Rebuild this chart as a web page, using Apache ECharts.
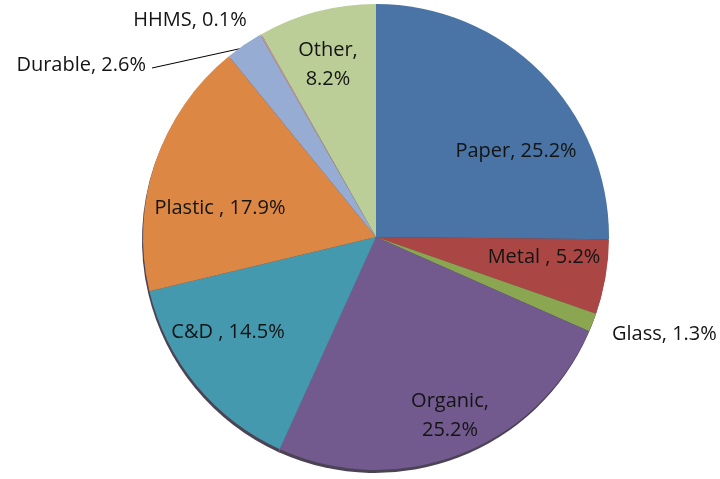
<!DOCTYPE html>
<html>
<head>
<meta charset="utf-8">
<script src="https://cdn.jsdelivr.net/npm/echarts@6/dist/echarts.min.js"></script>
<style>
  html, body { margin: 0; padding: 0; background: #fff; }
  #chart { width: 720px; height: 479px; }
</style>
</head>
<body>
<div id="chart"></div>
<script>
// waste composition
var categories = ['Paper', 'Metal ', 'Glass', 'Organic', 'C&D ', 'Plastic ', 'Durable', 'HHMS', 'Other'];
var shares = [25.2, 5.2, 1.3, 25.2, 14.5, 17.9, 2.6, 0.1, 8.2];
var colors = ['#4A74A5', '#AA4744', '#8AA650', '#725A8F', '#4499AF', '#DC8744', '#96ACD2', '#D39A99', '#BBCE97'];

// where each label sits (layout only)
var labelPos = [
    [516, 151], [544, 257], [612, 334], [450, 416], [228, 332],
    [220, 208], [146, 65], [190, 20], [328, 65]
];

function labelText(name, v) {
    // two-line labels for Organic and Other, like the original
    if (name === 'Organic' || name === 'Other') {
        return name + ',\n' + v + '%';
    }
    return name + ', ' + v + '%';
}

var pieData = categories.map(function (c, i) {
    return { name: c, value: shares[i] };
});

var chart = echarts.init(document.getElementById('chart'));

chart.setOption({
    animation: false,
    color: colors,
    series: [{
        // dark rim under the pie, gives the slight 3D edge at the bottom
        type: 'pie',
        silent: true,
        center: [375, 240],
        radius: [0, 233],
        startAngle: 90,
        z: 1,
        data: pieData,
        itemStyle: { color: '#2b2236', borderWidth: 0, opacity: 0.85 },
        label: { show: false },
        labelLine: { show: false }
    }, {
        type: 'pie',
        center: [376, 237],
        radius: [0, 233],
        startAngle: 90,
        clockwise: true,
        z: 2,
        avoidLabelOverlap: false,
        data: pieData,
        itemStyle: { borderWidth: 0 },
        label: {
            show: true,
            position: 'outside',
            color: '#141414',
            fontFamily: 'Open Sans',
            fontSize: 20,
            lineHeight: 29,
            formatter: function (p) {
                return labelText(p.name, p.value);
            }
        },
        labelLine: {
            show: true,
            length: 10,
            length2: 10,
            lineStyle: { color: '#000', width: 1 }
        },
        labelLayout: function (p) {
            var pos = labelPos[p.dataIndex];
            var out = { x: pos[0], y: pos[1], align: 'center', verticalAlign: 'middle' };
            if (p.dataIndex === 2) {
                out.align = 'left';
            }
            if (p.dataIndex === 6) {
                out.align = 'right';
                out.labelLinePoints = [[243, 48], [152, 68], [152, 68]];
            } else {
                out.labelLinePoints = [[0, 0], [0, 0], [0, 0]];
            }
            return out;
        }
    }]
});
</script>
</body>
</html>
